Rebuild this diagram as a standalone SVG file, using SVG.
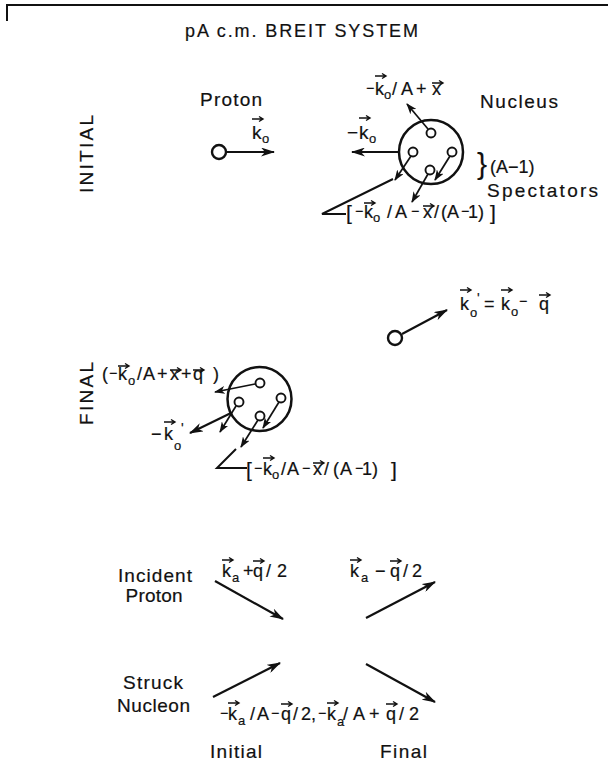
<svg xmlns="http://www.w3.org/2000/svg" width="608" height="763" viewBox="0 0 608 763">
<style>
text{font-family:"Liberation Sans",Arial,sans-serif;font-size:18px;fill:#111;stroke:#111;stroke-width:0.2}
.lbl{font-size:19px}
.sub{font-size:13px}
.mn{font-size:14px}
.br{font-size:21px}
.vec{stroke:#111;stroke-width:1.4;fill:none}
.ln{stroke:#111;stroke-width:2;fill:none}
.ar{stroke:#111;stroke-width:2.2;fill:none;marker-end:url(#ah)}
.as{stroke:#111;stroke-width:1.7;fill:none;marker-end:url(#ahs)}
.nuc{stroke:#111;stroke-width:2.5;fill:none}
.pc{stroke:#111;stroke-width:2.4;fill:#fff}
.sc{stroke:#111;stroke-width:1.9;fill:#fff}
</style>
<defs>
<marker id="ah" viewBox="0 0 14 9" refX="13" refY="4.5" markerWidth="14" markerHeight="9" markerUnits="userSpaceOnUse" orient="auto"><path d="M0,0 L14,4.5 L0,9 L4,4.5 z" fill="#111"/></marker>
<marker id="ahs" viewBox="0 0 11 8" refX="10" refY="4" markerWidth="11" markerHeight="8" markerUnits="userSpaceOnUse" orient="auto"><path d="M0,0 L11,4 L0,8 L3,4 z" fill="#111"/></marker>
<path id="v" d="M0 0H11M7 -2.5L11 0L7 2.5"/>
</defs>

<g id="frame"><path class="ln" d="M7 21V5H608" stroke-width="1.5"/></g>
<g id="title"><text x="185" y="37" textLength="233" lengthAdjust="spacing">pA c.m. BREIT SYSTEM</text></g>

<g id="row-initial"><text class="lbl" transform="translate(93,154) rotate(-90)" text-anchor="middle" textLength="78" lengthAdjust="spacing">INITIAL</text></g>
<g id="row-final"><text class="lbl" transform="translate(93,393.5) rotate(-90)" text-anchor="middle" textLength="63" lengthAdjust="spacing">FINAL</text></g>

<g id="proton-initial">
<text class="lbl" x="200" y="106" textLength="62" lengthAdjust="spacing">Proton</text>
<circle class="pc" cx="219" cy="152" r="7"/>
<text class="lbl"><tspan x="252" y="139">k</tspan><tspan class="sub" x="262" y="143">o</tspan></text>
<use class="vec" href="#v" x="252" y="119"/>
</g>

<g id="nucleus-initial">
<text class="lbl" x="480" y="108" textLength="78" lengthAdjust="spacing">Nucleus</text>
<circle class="nuc" cx="431" cy="152" r="32"/>
<circle class="sc" cx="431" cy="133" r="4.5"/>
<circle class="sc" cx="413" cy="152" r="4.5"/>
<circle class="sc" cx="452" cy="152" r="4.5"/>
<circle class="sc" cx="430" cy="170" r="4.5"/>
<text class="lbl"><tspan x="347" y="139">−</tspan><tspan x="359" y="139">k</tspan><tspan class="sub" x="369" y="143">o</tspan></text>
<use class="vec" href="#v" x="359" y="118"/>
<text><tspan class="mn" x="366" y="93">−</tspan><tspan x="375" y="95">k</tspan><tspan class="sub" x="384" y="99">o</tspan><tspan x="392" y="95">/</tspan><tspan x="401" y="95">A</tspan><tspan x="416" y="95">+</tspan><tspan x="432" y="95">x</tspan></text>
<use class="vec" href="#v" x="375" y="76"/>
<use class="vec" href="#v" x="432" y="83"/>
<text><tspan x="477" y="174" font-size="30" stroke-width="0.1">}</tspan><tspan x="490" y="173">(A−1)</tspan></text>
<text class="lbl" x="487" y="197" textLength="111" lengthAdjust="spacing">Spectators</text>
<text><tspan class="br" x="346" y="220">[</tspan><tspan class="mn" x="355" y="216">−</tspan><tspan x="364" y="218">k</tspan><tspan class="sub" x="373" y="222">o</tspan><tspan x="387" y="218">/</tspan><tspan x="395" y="218">A</tspan><tspan class="mn" x="411" y="216">−</tspan><tspan x="423" y="218">x</tspan><tspan x="434" y="218">/</tspan><tspan x="441" y="218">(</tspan><tspan x="447" y="218">A</tspan><tspan class="mn" x="461" y="216">−</tspan><tspan x="468" y="218">1</tspan><tspan x="478" y="218">)</tspan><tspan class="br" x="490" y="220">]</tspan></text>
<use class="vec" href="#v" x="364" y="203"/>
<use class="vec" href="#v" x="423" y="206"/>
</g>

<g id="proton-final">
<circle class="pc" cx="395" cy="338" r="7"/>
<text><tspan x="460" y="310">k</tspan><tspan class="sub" x="470" y="317">o</tspan><tspan font-size="14" x="477" y="303">'</tspan><tspan x="484" y="310">=</tspan><tspan x="501" y="310">k</tspan><tspan class="sub" x="511" y="316">o</tspan><tspan class="mn" x="519" y="306">−</tspan><tspan x="539" y="310">q</tspan></text>
<use class="vec" href="#v" x="460" y="290"/>
<use class="vec" href="#v" x="501" y="290"/>
<use class="vec" href="#v" x="539" y="295"/>
</g>

<g id="nucleus-final">
<circle class="nuc" cx="259.5" cy="399" r="32"/>
<circle class="sc" cx="260" cy="383" r="4.5"/>
<circle class="sc" cx="239" cy="402" r="4.5"/>
<circle class="sc" cx="281" cy="398" r="4.5"/>
<circle class="sc" cx="260" cy="416" r="4.5"/>
<text><tspan x="102" y="380">(</tspan><tspan class="mn" x="109" y="378">−</tspan><tspan x="118" y="380">k</tspan><tspan class="sub" x="128" y="385">o</tspan><tspan x="137" y="380">/</tspan><tspan x="143" y="380">A</tspan><tspan x="157" y="380">+</tspan><tspan x="170" y="380">x</tspan><tspan x="181" y="380">+</tspan><tspan x="193" y="380">q</tspan><tspan x="213" y="380">)</tspan></text>
<use class="vec" href="#v" x="118" y="366"/>
<use class="vec" href="#v" x="170" y="370"/>
<use class="vec" href="#v" x="193" y="370"/>
<text><tspan x="151" y="440">−</tspan><tspan x="164" y="440">k</tspan><tspan class="sub" x="174" y="450">o</tspan><tspan font-size="14" x="181" y="433">'</tspan></text>
<use class="vec" href="#v" x="164" y="422"/>
<text><tspan class="br" x="246" y="477">[</tspan><tspan class="mn" x="254" y="473">−</tspan><tspan x="263" y="475">k</tspan><tspan class="sub" x="272" y="479">o</tspan><tspan x="281" y="475">/</tspan><tspan x="287" y="475">A</tspan><tspan class="mn" x="302" y="473">−</tspan><tspan x="313" y="475">x</tspan><tspan x="324" y="475">/</tspan><tspan x="333" y="475">(</tspan><tspan x="340" y="475">A</tspan><tspan class="mn" x="355" y="473">−</tspan><tspan x="362" y="475">1</tspan><tspan x="372" y="475">)</tspan><tspan class="br" x="391" y="477">]</tspan></text>
<use class="vec" href="#v" x="263" y="458"/>
<use class="vec" href="#v" x="313" y="463"/>
</g>

<g id="incident-proton">
<text class="lbl" x="155" y="582" text-anchor="middle" textLength="74" lengthAdjust="spacing">Incident</text>
<text class="lbl" x="154" y="602" text-anchor="middle" textLength="57" lengthAdjust="spacing">Proton</text>
<text><tspan x="222" y="577">k</tspan><tspan class="sub" x="232" y="582">a</tspan><tspan x="243" y="577">+</tspan><tspan x="253" y="577">q</tspan><tspan x="266" y="577">/</tspan><tspan x="277" y="577">2</tspan></text>
<use class="vec" href="#v" x="222" y="560"/>
<use class="vec" href="#v" x="253" y="561"/>
<text><tspan x="350" y="577">k</tspan><tspan class="sub" x="361" y="582">a</tspan><tspan x="375" y="577">−</tspan><tspan x="390" y="577">q</tspan><tspan x="403" y="577">/</tspan><tspan x="412" y="577">2</tspan></text>
<use class="vec" href="#v" x="350" y="560"/>
<use class="vec" href="#v" x="390" y="561"/>
</g>

<g id="struck-nucleon">
<text class="lbl" x="153" y="689" text-anchor="middle" textLength="60" lengthAdjust="spacing">Struck</text>
<text class="lbl" x="153.5" y="712" text-anchor="middle" textLength="73" lengthAdjust="spacing">Nucleon</text>
<text><tspan class="mn" x="220" y="718">−</tspan><tspan x="228" y="720">k</tspan><tspan class="sub" x="238" y="725">a</tspan><tspan x="250" y="720">/</tspan><tspan x="257" y="720">A</tspan><tspan class="mn" x="271" y="718">−</tspan><tspan x="281" y="720">q</tspan><tspan x="293" y="720">/</tspan><tspan x="301" y="720">2</tspan><tspan x="311" y="720">,</tspan><tspan class="mn" x="318" y="718">−</tspan><tspan x="327" y="720">k</tspan><tspan class="sub" x="337" y="726">a</tspan><tspan x="343" y="720">/</tspan><tspan x="353" y="720">A</tspan><tspan x="369" y="720">+</tspan><tspan x="386" y="720">q</tspan><tspan x="399" y="720">/</tspan><tspan x="409" y="720">2</tspan></text>
<use class="vec" href="#v" x="228" y="703"/>
<use class="vec" href="#v" x="281" y="704"/>
<use class="vec" href="#v" x="327" y="703"/>
<use class="vec" href="#v" x="386" y="704"/>
</g>

<g id="column-labels">
<text class="lbl" x="210" y="758" textLength="52" lengthAdjust="spacing">Initial</text>
<text class="lbl" x="380" y="758" textLength="47" lengthAdjust="spacing">Final</text>
</g>

<g id="connectors">
<line class="ar" x1="227" y1="152" x2="274" y2="152"/>
<line class="ar" x1="399" y1="152" x2="352" y2="152"/>
<line class="as" x1="428" y1="129" x2="407" y2="104"/>
<line class="as" x1="411" y1="156" x2="395" y2="180"/>
<line class="as" x1="450" y1="156" x2="435" y2="180"/>
<line class="as" x1="428" y1="174" x2="412" y2="202"/>
<polyline class="ln" stroke-width="1.6" points="393,179 322,214 346,214"/>
<line class="ar" x1="402" y1="334" x2="447" y2="310"/>
<line class="as" x1="255" y1="384" x2="215" y2="392"/>
<line class="as" x1="236" y1="406" x2="220" y2="432"/>
<line class="ar" x1="231" y1="413" x2="190" y2="433"/>
<line class="as" x1="279" y1="402" x2="263" y2="428"/>
<line class="as" x1="258" y1="420" x2="241" y2="447"/>
<polyline class="ln" stroke-width="1.6" points="236,449 217,468 247,468"/>
<line class="ar" x1="215" y1="581" x2="283" y2="619"/>
<line class="ar" x1="366" y1="618" x2="435" y2="582"/>
<line class="ar" x1="213" y1="697" x2="280" y2="663"/>
<line class="ar" x1="366" y1="664" x2="435" y2="702"/>
</g>
</svg>
